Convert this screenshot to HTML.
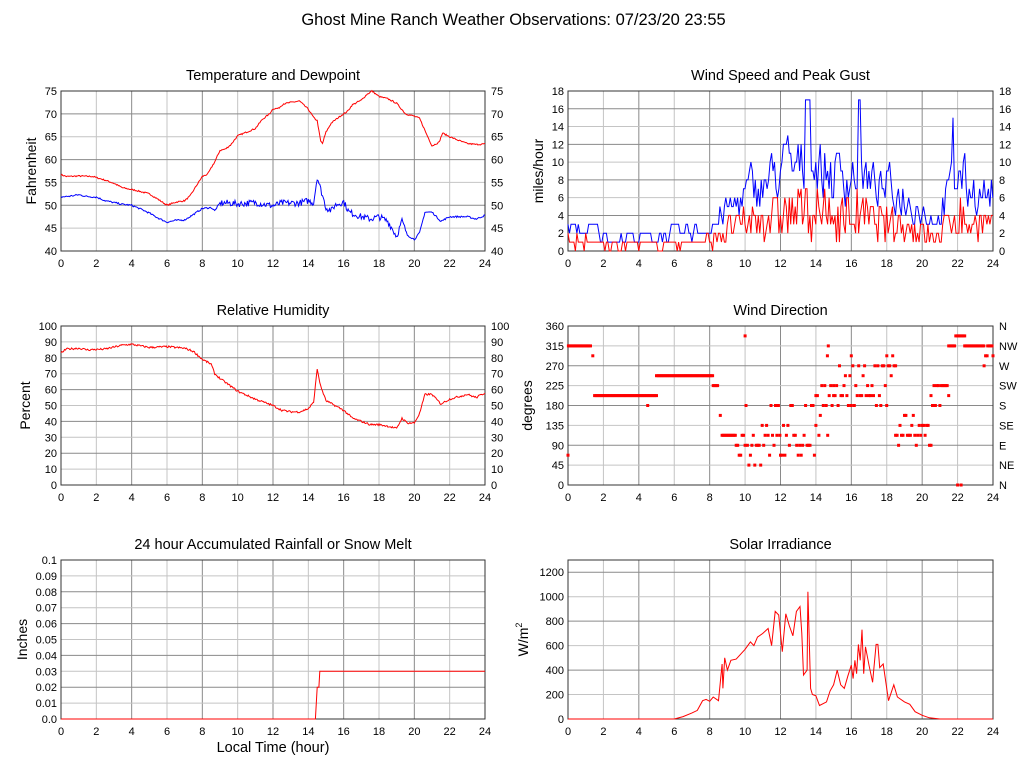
<!DOCTYPE html>
<html><head><meta charset="utf-8"><style>
body{margin:0;background:#fff;}
svg{display:block;font-family:"Liberation Sans",sans-serif;}
</style></head><body>
<svg id="s" width="1027" height="772" xmlns="http://www.w3.org/2000/svg"></svg>
<script>
var S=document.getElementById('s'),out='';
var seed=7;function rnd(){seed=(seed*16807)%2147483647;return seed/2147483647;}
function T(x,y,t,sz,anc,extra){out+='<text x="'+x+'" y="'+y+'" font-size="'+sz+'" text-anchor="'+(anc||'middle')+'" '+(extra||'')+'>'+t+'</text>';}
function interp(k,h){for(var i=0;i<k.length-1;i++){if(h>=k[i][0]&&h<=k[i+1][0]){var f=(h-k[i][0])/(k[i+1][0]-k[i][0]||1);return k[i][1]+f*(k[i+1][1]-k[i][1]);}}return k[k.length-1][1];}
function panel(p){
 var x0=p.x0,y0=p.y0,x1=p.x1,y1=p.y1,w=x1-x0,h=y1-y0;
 T((x0+x1)/2,y0-11,p.title,14.5);
 for(var i=0;i<=12;i++){var x=x0+w*i/12;out+='<line x1="'+x+'" y1="'+y0+'" x2="'+x+'" y2="'+y1+'" stroke="'+(i%2?'#c4c4c4':'#8a8a8a')+'" stroke-width="1"/>';T(x,y1+16,i*2,11);}
 var n=p.ticks.length;
 for(var j=0;j<n;j++){var v=p.ticks[j],y=y1-(v-p.ymin)/(p.ymax-p.ymin)*h;
  out+='<line x1="'+x0+'" y1="'+y+'" x2="'+x1+'" y2="'+y+'" stroke="'+(j%2?'#c4c4c4':'#8a8a8a')+'"/>';
  T(x0-4,y+4,p.lab?p.lab[j]:v,11,'end');
  if(p.right)T(x1+6,y+4,p.rlab?p.rlab[j]:v,11,'start');}
 out+='<rect x="'+x0+'" y="'+y0+'" width="'+w+'" height="'+h+'" fill="none" stroke="#333"/>';
 out+='<text transform="translate('+(p.ylx)+','+((y0+y1)/2)+') rotate(-90)" font-size="14" text-anchor="middle">'+p.ylabel+'</text>';
 p.X=function(hr){return x0+hr/24*w;};p.Y=function(v){return y1-(v-p.ymin)/(p.ymax-p.ymin)*h;};
 return p;}
function line(p,fn,col,step){var pts=[];for(var hr=0;hr<=24.0001;hr+=step){pts.push(p.X(hr).toFixed(1)+','+p.Y(fn(hr)).toFixed(1));}
 out+='<polyline points="'+pts.join(' ')+'" fill="none" stroke="'+col+'" stroke-width="1"/>';}
T(513.5,25,'Ghost Mine Ranch Weather Observations: 07/23/20 23:55',16.5);
var p1=panel({x0:61,y0:91,x1:485,y1:251,ymin:40,ymax:75,ticks:[40,45,50,55,60,65,70,75],right:1,title:'Temperature and Dewpoint',ylabel:'Fahrenheit',ylx:36});
var tk=[[0,56.7],[0.3,56.3],[1,56.4],[1.8,56.3],[2.5,55.5],[3,54.8],[3.5,53.8],[4.2,53.3],[4.5,53],[5,52.5],[5.5,51.3],[6,50],[6.5,50.7],[7,51],[7.3,52],[7.7,54.5],[8,56.3],[8.3,56.8],[8.7,59.5],[9,62],[9.3,62.3],[9.6,63.2],[10,65.2],[10.5,66],[11,66.8],[11.4,68.8],[11.8,70],[12,71.1],[12.3,71.2],[12.6,72.2],[13,72.5],[13.5,72.8],[14,71],[14.3,69.2],[14.5,68.5],[14.7,64],[14.8,63.5],[15,66],[15.3,68],[15.8,69.5],[16.2,70.5],[16.5,72],[17,73],[17.3,74.2],[17.6,75],[18,73.8],[18.5,73.3],[19,72.3],[19.5,70],[20,69.5],[20.3,69],[20.7,65.5],[21,63],[21.4,63.8],[21.6,65.8],[22,65],[22.5,64.2],[23,63.5],[23.5,63.3],[24,63.4]];
var dk=[[0,51.8],[0.5,52],[1,52.3],[1.5,51.9],[2,51.8],[2.5,51],[3,50.6],[3.5,50.2],[4,50],[4.5,49.2],[5,48.3],[5.5,47.2],[6,46.3],[6.5,46.7],[7,46.8],[7.5,48],[8,49.3],[8.5,49.5],[8.7,48.8],[9,50.5],[9.5,50.5],[10,50.3],[11,50.6],[11.5,50.2],[12,49.9],[12.5,50.5],[13,50.5],[13.5,50.5],[14,51],[14.3,50.5],[14.5,56.2],[14.7,53.5],[15,49.5],[15.3,48.8],[15.5,50],[16,50.8],[16.3,48.5],[17,47.5],[17.5,47],[18,47.5],[18.5,46.5],[19,43.2],[19.3,46.6],[19.6,43.5],[20,42.5],[20.3,44],[20.6,48.5],[21,48.5],[21.5,46.5],[22,47.5],[23,47.5],[23.5,47],[24,47.8]];
line(p1,function(h){return interp(tk,h)+(rnd()-.5)*0.3;},'#f00',0.05);
line(p1,function(h){var a=h>9&&h<19.5?1.4:0.35;return interp(dk,h)+(rnd()-.5)*a;},'#00f',0.05);
var p2=panel({x0:568,y0:91,x1:993,y1:251,ymin:0,ymax:18,ticks:[0,2,4,6,8,10,12,14,16,18],right:1,title:'Wind Speed and Peak Gust',ylabel:'miles/hour',ylx:543});
var gk=[[0,2.5],[3,1.5],[6,2],[8,2.5],[9,5],[10,6.5],[12,9],[13.5,10],[15,8.5],[16.5,9],[17,7.5],[19,6],[20,4.5],[20.8,3],[21.5,7],[22,9],[22.5,7],[24,6]];
var G=[],W=[],prev=2;for(var h=0;h<=24.0001;h+=0.0833){var b=interp(gk,h);var g=Math.max(0,Math.round(0.4*prev+0.6*(b+(rnd()-.5)*b*1.1)));prev=g;if(h>13.4&&h<13.7)g=17;if(h>16.4&&h<16.5)g=17;if(h>21.7&&h<21.8)g=15;G.push(g);W.push(Math.max(0,Math.min(g,Math.round(b*0.45+(rnd()-.5)*b*0.6))));}
var gi=0,wi=0;line(p2,function(){return G[gi++];},'#00f',0.0833);line(p2,function(){return W[wi++];},'#f00',0.0833);
var p3=panel({x0:61,y0:326,x1:485,y1:485,ymin:0,ymax:100,ticks:[0,10,20,30,40,50,60,70,80,90,100],right:1,title:'Relative Humidity',ylabel:'Percent',ylx:30});
var rk=[[0,83],[0.3,85.5],[1,86],[1.5,85],[2.5,85.5],[3.5,88],[4,88.5],[4.5,87.5],[5,86.5],[6,87],[7,86],[7.5,84],[8,79],[8.5,76],[8.7,70],[9,67],[9.5,63],[10,59],[11,54],[12,50],[12.5,47],[13,46],[13.5,46],[14,48],[14.3,52],[14.5,73],[14.7,62],[15,53],[15.5,50],[16,47],[16.5,42],[17,40],[17.5,38],[18,38],[18.5,37],[19,35.5],[19.3,42],[19.6,39],[20,39],[20.3,45],[20.6,57],[21,57],[21.5,51],[22,54],[23,57],[23.5,55],[24,58]];
line(p3,function(h){return interp(rk,h)+(rnd()-.5)*1.2;},'#f00',0.05);
var p4=panel({x0:568,y0:326,x1:993,y1:485,ymin:0,ymax:360,ticks:[0,45,90,135,180,225,270,315,360],right:1,rlab:['N','NE','E','SE','S','SW','W','NW','N'],title:'Wind Direction',ylabel:'degrees',ylx:532});
function sq(h,v){out+='<rect x="'+(p4.X(h)-1.5).toFixed(1)+'" y="'+(p4.Y(v)-1.5).toFixed(1)+'" width="3" height="3" fill="#f00"/>';}
var segs=[[0.02,1.3,[315]],[1.5,5,[202.5]],[5,8.2,[247.5]],[8.2,8.5,[225]],[8.7,9.5,[112.5]],[9.5,10,[90,67.5,112.5]],[10.05,12,[90,112.5,135,67.5,45,180]],[12,14,[112.5,135,90,67.5,180]],[14,15,[112.5,135,157.5,180,202.5,225]],[15,18,[180,202.5,225,247.5,270,202.5]],[18,18.5,[270,292.5,247.5]],[18.5,20.5,[112.5,112.5,90,135,157.5]],[20.5,21.5,[225,202.5,180]],[21.5,21.9,[315]],[21.9,22.4,[337.5]],[22.4,23.5,[315]],[23.5,23.7,[292.5,270]],[23.7,24,[315]]];
sq(0,67.5);sq(1.4,292.5);sq(4.5,180);sq(8.6,157.5);sq(10,337.5);sq(14.7,315);sq(14.65,292.5);sq(22,0);sq(22.2,0);sq(16,292.5);sq(24,292.5);
segs.forEach(function(s){var a=s[2];for(var h=s[0];h<=s[1];h+=0.0833){sq(h,a.length==1?a[0]:a[Math.floor(rnd()*a.length)]);}});
var p5=panel({x0:61,y0:560,x1:485,y1:719,ymin:0,ymax:0.1,ticks:[0,.01,.02,.03,.04,.05,.06,.07,.08,.09,.1],lab:['0.0','0.01','0.02','0.03','0.04','0.05','0.06','0.07','0.08','0.09','0.1'],title:'24 hour Accumulated Rainfall or Snow Melt',ylabel:'Inches',ylx:27});
var rain=[[0,0],[14.4,0],[14.45,0.01],[14.5,0.02],[14.6,0.02],[14.65,0.03],[24,0.03]];
out+='<polyline points="'+rain.map(function(r){return p5.X(r[0]).toFixed(1)+','+p5.Y(r[1]).toFixed(1);}).join(' ')+'" fill="none" stroke="#f00"/>';
T(273,752,'Local Time (hour)',14.5);
var p6=panel({x0:568,y0:560,x1:993,y1:719,ymin:0,ymax:1300,ticks:[0,200,400,600,800,1000,1200],title:'Solar Irradiance',ylabel:'W/m<tspan font-size="9" dy="-6">2</tspan>',ylx:528});
var sk=[[0,0],[6,0],[6.5,20],[7,50],[7.3,70],[7.6,150],[7.8,160],[8,145],[8.2,180],[8.5,150],[8.6,300],[8.7,450],[8.75,250],[8.85,500],[9,400],[9.2,480],[9.5,490],[10,570],[10.3,630],[10.5,600],[10.7,670],[11,700],[11.3,740],[11.5,600],[11.7,880],[11.9,850],[12.1,550],[12.3,860],[12.5,760],[12.7,680],[12.9,880],[13.1,920],[13.2,700],[13.3,360],[13.5,400],[13.55,1040],[13.7,250],[13.8,200],[14,190],[14.2,110],[14.6,140],[14.8,230],[15,280],[15.2,400],[15.4,280],[15.6,250],[15.8,350],[16.0,440],[16.1,330],[16.2,480],[16.3,370],[16.4,610],[16.5,480],[16.6,730],[16.7,370],[16.8,590],[17,440],[17.2,300],[17.4,610],[17.5,610],[17.6,420],[17.8,450],[18.1,150],[18.4,280],[18.6,180],[19,140],[19.3,120],[19.6,60],[20,30],[20.4,10],[21,0],[24,0]];
out+='<polyline points="'+sk.map(function(r){return p6.X(r[0]).toFixed(1)+','+p6.Y(r[1]).toFixed(1);}).join(' ')+'" fill="none" stroke="#f00"/>';
S.innerHTML=out;
</script>
</body></html>
